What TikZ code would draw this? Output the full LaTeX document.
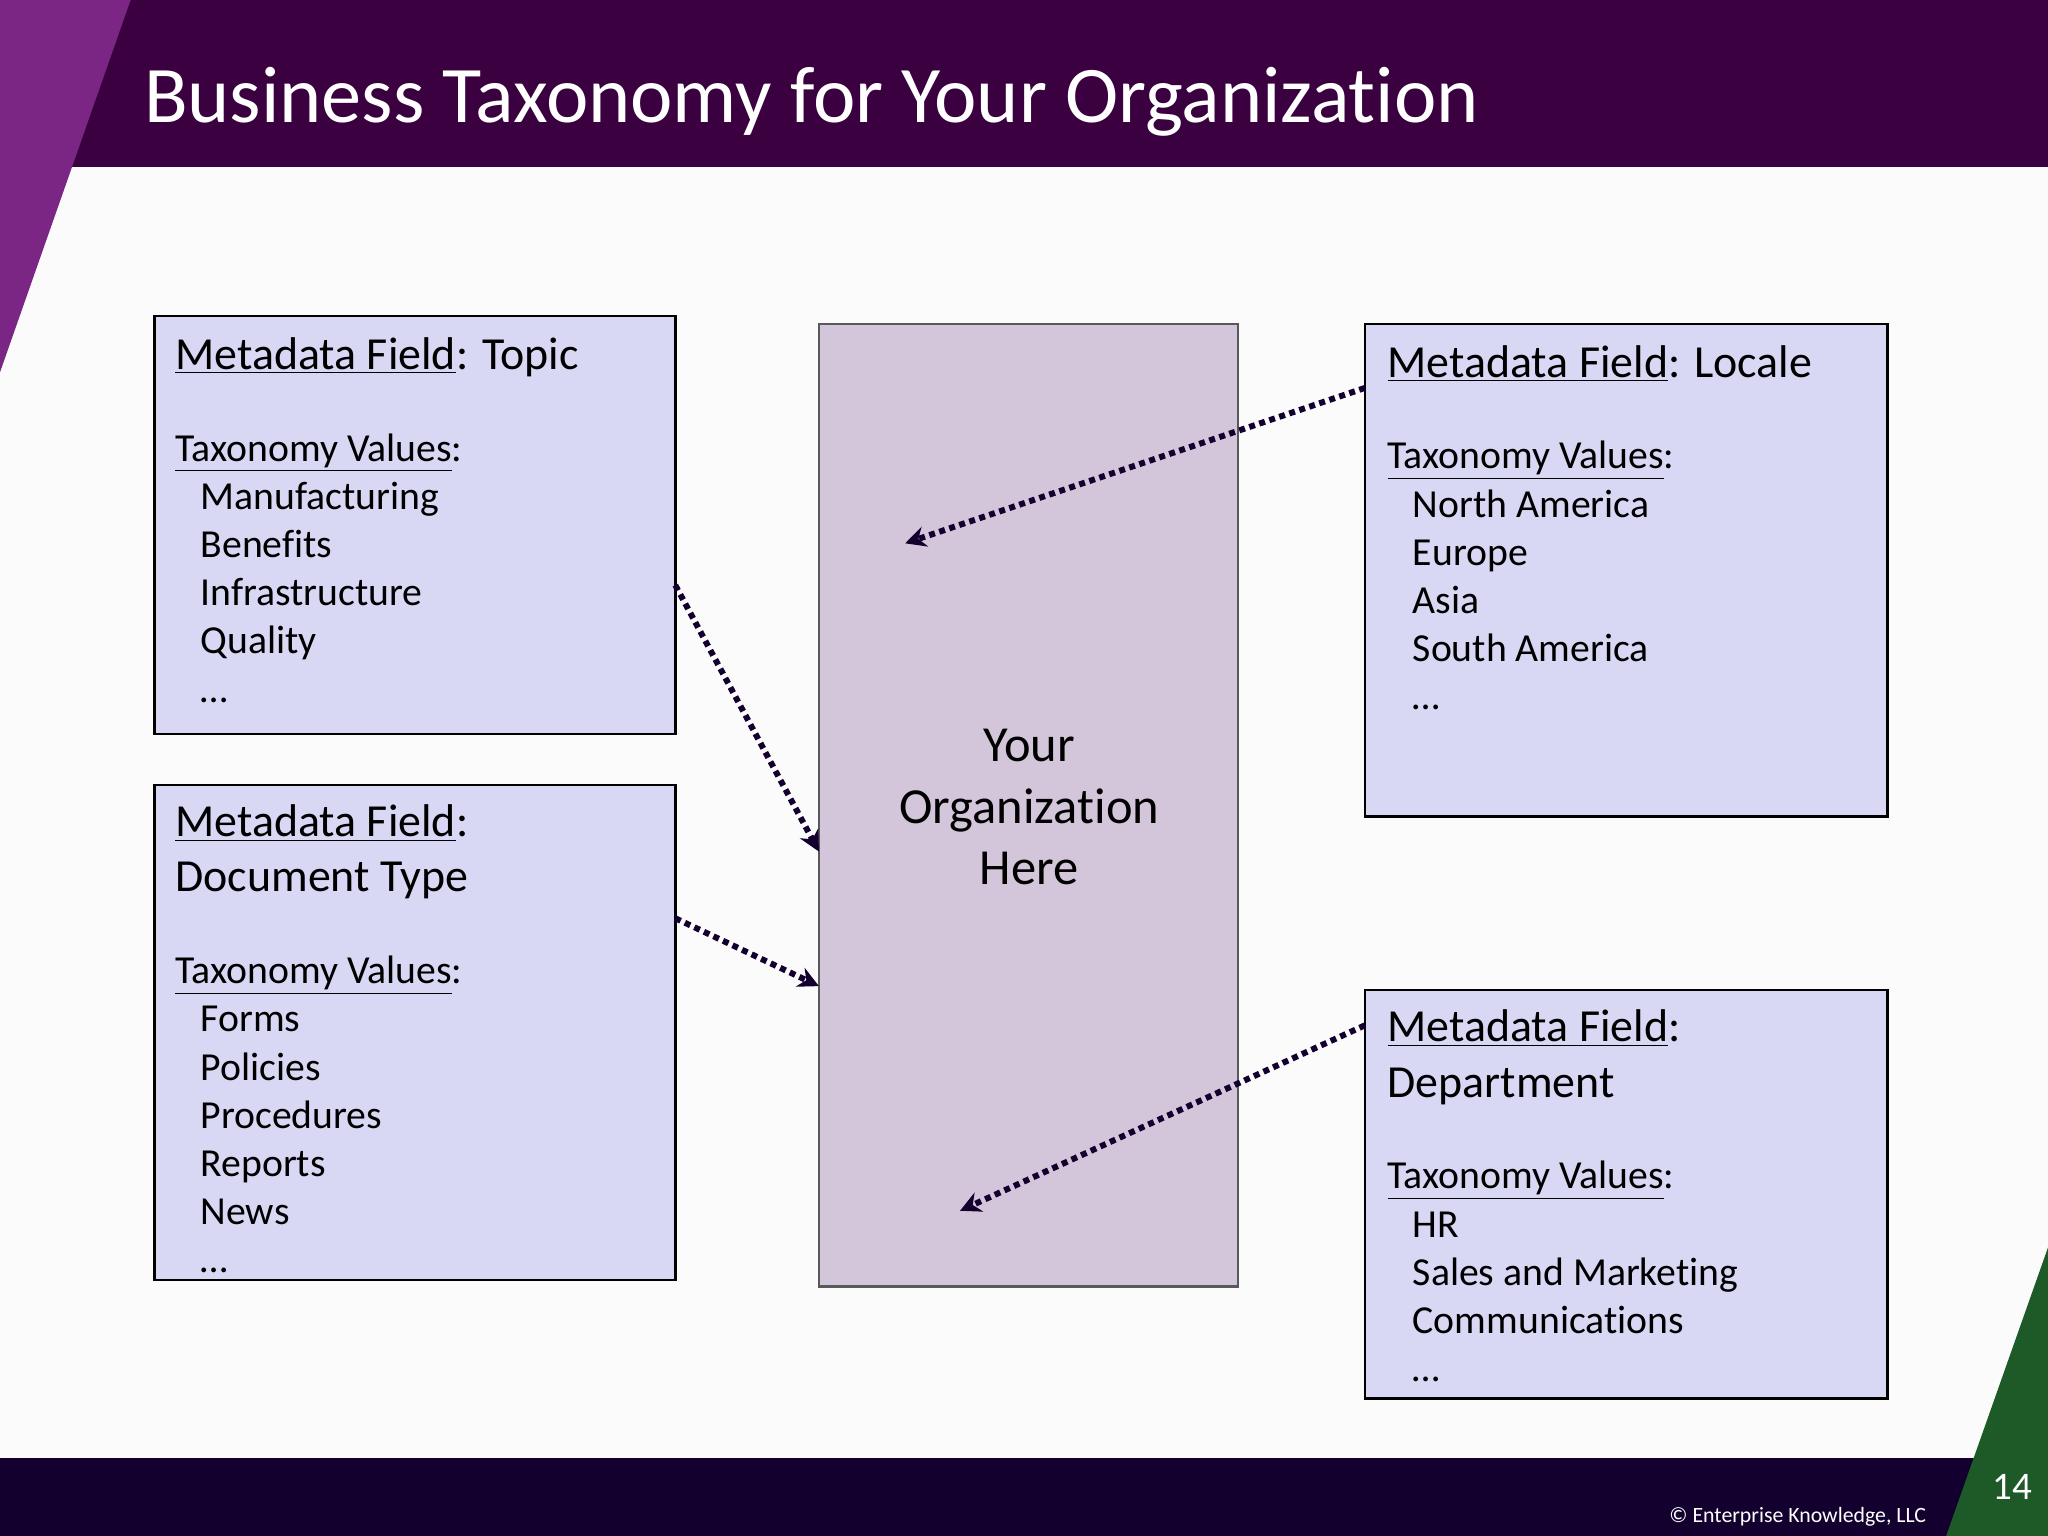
\documentclass[tikz,border=0pt]{standalone}
\usepackage{fontspec}
\setmainfont{Carlito}[RawFeature={-liga;-clig}]
\usetikzlibrary{arrows.meta}
\definecolor{topbar}{HTML}{3A0040}
\definecolor{leftpurple}{HTML}{7B2585}
\definecolor{botbar}{HTML}{14002E}
\definecolor{green}{HTML}{1E5A28}
\definecolor{lav}{HTML}{D8D8F5}
\definecolor{orgfill}{HTML}{D3C6DA}
\definecolor{arr}{HTML}{14002E}
\newcommand{\vsz}{\fontsize{17.3}{21}\selectfont}
\tikzset{
 fieldbox/.style={draw=black,line width=1.2pt,fill=lav},
 fieldtext/.style={anchor=north west,align=left,inner sep=0pt,font=\fontsize{20}{21}\selectfont,text=black},
 link/.style={arr,line width=2.6pt,dotted,-{Stealth[length=9pt,width=9pt]}}
}
\begin{document}
\begin{tikzpicture}[x=0.02cm,y=-0.02cm]
\useasboundingbox (0,0) rectangle (1568,1176);
\fill[white!97!gray] (0,0) rectangle (1568,1176);
\fill[topbar] (0,0) rectangle (1568,128);
\fill[leftpurple] (0,0) -- (100,0) -- (0,285) -- cycle;
\node[anchor=base west,text=white,inner sep=0pt,font=\fontsize{35}{40}\selectfont] (title) at (110,94) {Business Taxonomy for Your Organization};
\fill[botbar] (0,1116) rectangle (1568,1176);
\fill[green] (1568,955) -- (1568,1176) -- (1490,1176) -- cycle;
\node[anchor=base east,text=white,inner sep=0pt,font=\fontsize{9.5}{10}\selectfont] (copy) at (1475,1166) {© Enterprise Knowledge, LLC};
\node[anchor=base,text=white,inner sep=0pt,font=\fontsize{17}{20}\selectfont] (page) at (1541,1148) {14};
\draw[fieldbox] (118,242) rectangle (517,562);
\draw[fieldbox] (118,601) rectangle (517,980);
\draw[fieldbox] (1045,248) rectangle (1445,625);
\draw[fieldbox] (1045,758) rectangle (1445,1071);
\draw[draw=gray!70!black,line width=1pt,fill=orgfill] (627,248) rectangle (948,985);
\node[align=center,inner sep=0pt,font=\fontsize{22}{26.7}\selectfont] (org) at (788,618) {Your\\Organization\\Here};
\node[fieldtext] (topic) at (134,258) {\underline{Metadata Field}: Topic\\[19pt]
\vsz\underline{Taxonomy Values}:\\
\vsz\hspace*{11pt}Manufacturing\\
\vsz\hspace*{11pt}Benefits\\
\vsz\hspace*{11pt}Infrastructure\\
\vsz\hspace*{11pt}Quality\\
\vsz\hspace*{11pt}…};
\node[fieldtext] (doctype) at (134,616) {\underline{Metadata Field}:\\[3pt]Document Type\\[19pt]
\vsz\underline{Taxonomy Values}:\\
\vsz\hspace*{11pt}Forms\\
\vsz\hspace*{11pt}Policies\\
\vsz\hspace*{11pt}Procedures\\
\vsz\hspace*{11pt}Reports\\
\vsz\hspace*{11pt}News\\
\vsz\hspace*{11pt}…};
\node[fieldtext] (locale) at (1062,264) {\underline{Metadata Field}: Locale\\[19pt]
\vsz\underline{Taxonomy Values}:\\
\vsz\hspace*{11pt}North America\\
\vsz\hspace*{11pt}Europe\\
\vsz\hspace*{11pt}Asia\\
\vsz\hspace*{11pt}South America\\
\vsz\hspace*{11pt}…};
\node[fieldtext] (dept) at (1062,773) {\underline{Metadata Field}:\\[3pt]Department\\[19pt]
\vsz\underline{Taxonomy Values}:\\
\vsz\hspace*{11pt}HR\\
\vsz\hspace*{11pt}Sales and Marketing\\
\vsz\hspace*{11pt}Communications\\
\vsz\hspace*{11pt}…};
\coordinate (a1s) at (517,448); \coordinate (a1e) at (627,652);
\coordinate (a2s) at (517,703); \coordinate (a2e) at (627,755);
\coordinate (a3s) at (1045,297); \coordinate (a3e) at (693,416);
\coordinate (a4s) at (1045,785); \coordinate (a4e) at (735,927);
\draw[link] (a1s) -- (a1e);
\draw[link] (a2s) -- (a2e);
\draw[link] (a3s) -- (a3e);
\draw[link] (a4s) -- (a4e);
\end{tikzpicture}
\end{document}
